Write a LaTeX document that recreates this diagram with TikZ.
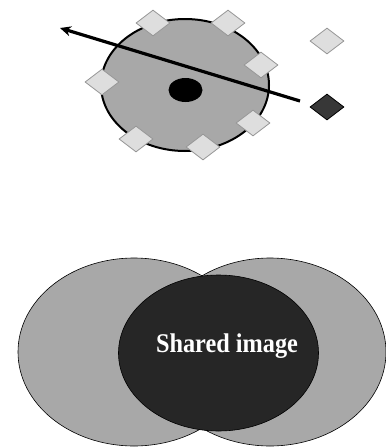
\documentclass[tikz,border=0pt]{standalone}
\usepackage{fontspec}
\setmainfont{Liberation Serif}
\usetikzlibrary{shapes.geometric,arrows.meta}
\definecolor{discgray}{RGB}{168,168,168}
\definecolor{tilegray}{RGB}{222,222,222}
\definecolor{tileedge}{RGB}{150,150,150}
\definecolor{darktile}{RGB}{55,55,55}
\definecolor{sharedgray}{RGB}{38,38,38}
\tikzset{
  tile/.style={diamond, draw=tileedge, fill=tilegray, line width=0.8pt,
    inner sep=0pt, minimum width=34pt, minimum height=26pt},
  darkbox/.style={tile, draw=black, fill=darktile},
}
\begin{document}
\begin{tikzpicture}[x=1pt, y=-1pt]
  \useasboundingbox (0,0) rectangle (386,448);
  % region round the point
  \draw[fill=discgray, line width=2pt] (185,85) ellipse (84pt and 66pt);
  \fill[black] (185.5,90) ellipse (17pt and 12pt);
  % the direction
  \coordinate (start) at (300,101);
  \coordinate (tip) at (60,28);
  \draw[line width=3.2pt, -{Stealth[length=11pt,width=10pt]}] (start) -- (tip);
  % tiles
  \node[tile] (t1) at (153,23) {};
  \node[tile] (t2) at (228,23) {};
  \node[tile] (t3) at (327,41) {};
  \node[tile] (t4) at (261,65) {};
  \node[tile] (t5) at (102,82) {};
  \node[tile] (t6) at (253,123) {};
  \node[tile] (t7) at (136,139) {};
  \node[tile] (t8) at (203,147) {};
  \node[darkbox] (q) at (327,107) {};
  % two views and their overlap
  \draw[fill=discgray, line width=0.6pt] (134,352) ellipse (116pt and 94pt);
  \draw[fill=discgray, line width=0.6pt] (270,352) ellipse (116pt and 94pt);
  \draw[fill=sharedgray, line width=0.6pt] (218.5,353) ellipse (100pt and 78pt);
  \node[text=white, xscale=0.9, font=\fontsize{27}{31}\selectfont\bfseries] (shared) at (227,346) {Shared image};
\end{tikzpicture}
\end{document}
